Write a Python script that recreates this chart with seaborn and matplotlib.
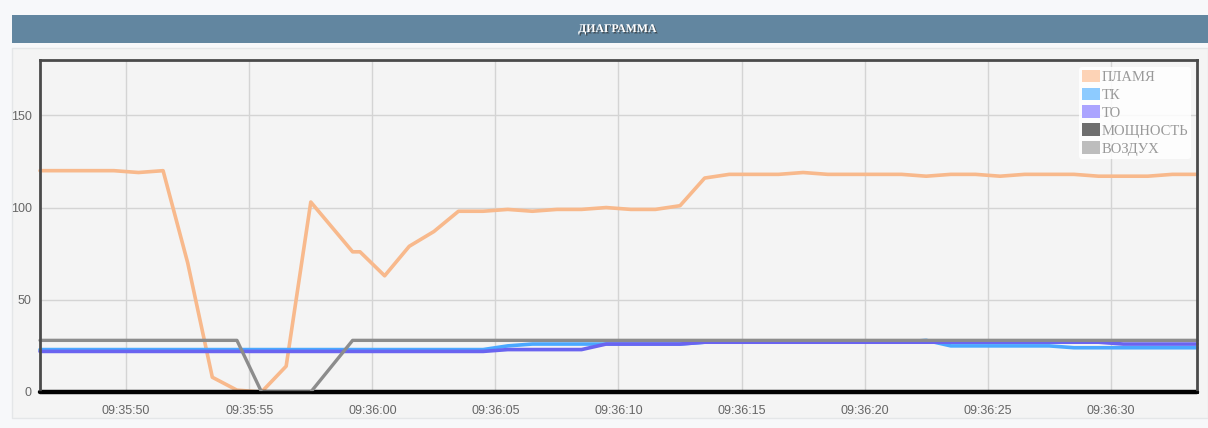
import seaborn as sns
import matplotlib.pyplot as plt
import matplotlib.dates as mdates
import matplotlib.patheffects as pe
from matplotlib.patches import Rectangle, Patch
import pandas as pd

# Sample times, seconds after 09:35:00
secs = [46.5, 47.5, 48.5, 49.5, 50.5, 51.5, 52.5, 53.5, 54.5, 55.5, 56.5, 57.5,
        59.2, 59.5, 60.5, 61.5, 62.5, 63.5, 64.5, 65.5, 66.5, 67.5, 68.5, 69.5,
        70.5, 71.5, 72.5, 73.5, 74.5, 75.5, 76.5, 77.5, 78.5, 79.5, 80.5, 81.5,
        82.5, 83.5, 84.5, 85.5, 86.5, 87.5, 88.5, 89.5, 90.5, 91.5, 92.5, 93.5]

plamya = [120, 120, 120, 120, 119, 120, 70, 8, 1, 0, 14, 103,
          76, 76, 63, 79, 87, 98,
          98, 99, 98, 99, 99, 100, 99, 99, 101, 116,
          118, 118, 118, 119, 118, 118, 118, 118, 117, 118,
          118, 117, 118, 118, 118, 117, 117, 117, 118, 118]
tk = [23] * 18 + [23, 25, 26, 26, 26] + [26] * 4 + [27] * 9 + [28] + [25] * 5 + [24] * 6
to = [22] * 18 + [22, 23, 23, 23, 23] + [26] * 4 + [27] * 17 + [26] * 4
moshchnost = [0] * 48
vozdukh = [28] * 9 + [0, 0, 0] + [28] * 36

series_names = ['ПЛАМЯ', 'ТК', 'ТО', 'МОЩНОСТЬ', 'ВОЗДУХ']
line_colors = ['#f8b98c', '#4aa8ff', '#6a64f0', '#000000', '#8c8c8c']
legend_colors = ['#fdd3b6', '#8dcbff', '#aba4ff', '#6e6e6e', '#bdbdbd']
line_widths = [2.6, 2.6, 2.6, 3.2, 2.4]

base = pd.Timestamp('2000-01-01 09:35:00')
times = base + pd.to_timedelta(secs, unit='s')

frames = []
for name, vals in zip(series_names, [plamya, tk, to, moshchnost, vozdukh]):
    frames.append(pd.DataFrame({'time': times, 'value': vals, 'series': name}))
df = pd.concat(frames, ignore_index=True)

sns.set_style('whitegrid')

fig = plt.figure(figsize=(12.08, 4.28), dpi=100)
fig.patch.set_facecolor('#f7f8fa')

# panel and title bar
fig.patches.append(Rectangle((12 / 1208, 10 / 428), 1196 / 1208, 370 / 428,
                             transform=fig.transFigure, facecolor='#f4f4f4',
                             edgecolor='#e4e6e8', linewidth=1, zorder=-2))
fig.patches.append(Rectangle((12 / 1208, (428 - 43) / 428), 1196 / 1208, 28 / 428,
                             transform=fig.transFigure, facecolor='#6286a0',
                             edgecolor='none', zorder=-2))
fig.text(617 / 1208, (428 - 29) / 428, 'ДИАГРАММА', ha='center', va='center',
         color='white', fontsize=8.5, fontweight='bold', family='Liberation Serif',
         path_effects=[pe.withSimplePatchShadow(offset=(1, -1), shadow_rgbFace='#333333', alpha=0.7)])

ax = fig.add_axes([40 / 1208, 36 / 428, 1157 / 1208, 332 / 428])
ax.set_zorder(1)
ax.set_facecolor('#f4f4f4')

for name, color, lw in zip(series_names, line_colors, line_widths):
    sns.lineplot(data=df[df['series'] == name], x='time', y='value', color=color,
                 linewidth=lw, estimator=None, ax=ax, clip_on=False,
                 solid_joinstyle='round', solid_capstyle='round', legend=False)

ax.set_xlim(times[0], times[-1])
ax.set_ylim(0, 180)
ax.set_yticks([0, 50, 100, 150])
ax.xaxis.set_major_locator(mdates.SecondLocator(bysecond=range(0, 60, 5)))
ax.xaxis.set_major_formatter(mdates.DateFormatter('%H:%M:%S'))
ax.set_xlabel('')
ax.set_ylabel('')
ax.grid(True, color='#d4d4d4', linewidth=1)
ax.tick_params(axis='both', length=0, labelsize=9, labelcolor='#666666')
ax.tick_params(axis='x', pad=9)
ax.tick_params(axis='y', pad=6)
for lab in ax.get_xticklabels() + ax.get_yticklabels():
    lab.set_family('Liberation Sans')

for side in ['left', 'top', 'right']:
    ax.spines[side].set_color('#4a4a4a')
    ax.spines[side].set_linewidth(2)
ax.spines['bottom'].set_color('#000000')
ax.spines['bottom'].set_linewidth(2)

handles = [Patch(facecolor=c, edgecolor='none') for c in legend_colors]
leg = ax.legend(handles, series_names, loc='upper right', bbox_to_anchor=(0.995, 0.98),
                frameon=True, prop={'family': 'Liberation Serif', 'size': 10.5},
                handlelength=1.25, handleheight=0.95, handletextpad=0.1,
                labelspacing=0.25, borderpad=0.2, borderaxespad=0)
leg.get_frame().set_facecolor('white')
leg.get_frame().set_alpha(0.85)
leg.get_frame().set_edgecolor('none')
for t in leg.get_texts():
    t.set_color('#999999')

fig.savefig('out.png', dpi=100, facecolor=fig.get_facecolor())
